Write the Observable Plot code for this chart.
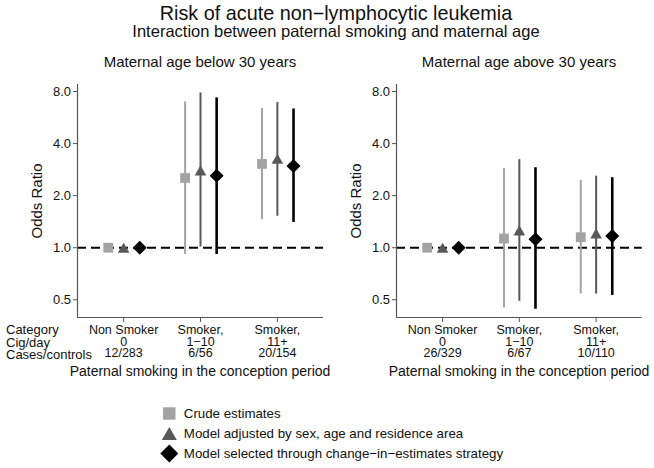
<!DOCTYPE html>
<html>
<head>
<meta charset="utf-8">
<script src="https://cdn.jsdelivr.net/npm/d3@7"></script>
<script src="https://cdn.jsdelivr.net/npm/@observablehq/plot@0.6"></script>
<style>
  body { margin: 0; background: #fff; }
  #chart { position: relative; width: 654px; height: 468px; overflow: hidden; background: #fff;
           font-family: "Liberation Sans", Arial, Helvetica, sans-serif; color: #111; }
  .abs { position: absolute; white-space: nowrap; }
  .ctr { text-align: center; }
</style>
</head>
<body>
<div id="chart">
  <div class="abs ctr" style="left:0;width:672px;top:3.9px;font-size:19.8px;line-height:1">Risk of acute non−lymphocytic leukemia</div>
  <div class="abs ctr" style="left:0;width:672px;top:23.3px;font-size:16.5px;line-height:1">Interaction between paternal smoking and maternal age</div>
  <div class="abs ctr" id="pt0" style="left:0;width:400px;top:54px;font-size:15px;line-height:1"></div>
  <div class="abs ctr" id="pt1" style="left:319px;width:400px;top:54px;font-size:15px;line-height:1"></div>
  <div id="p0" class="abs" style="left:0;top:0"></div>
  <div id="p1" class="abs" style="left:327px;top:0"></div>
  <div class="abs" id="rows" style="left:6px;top:324.3px;font-size:13px;line-height:12.5px"></div>
  <div class="abs ctr" id="xl0" style="left:0;width:400px;top:364px;font-size:14px;line-height:1"></div>
  <div class="abs ctr" id="xl1" style="left:319px;width:400px;top:364px;font-size:14px;line-height:1"></div>
  <div id="legend" class="abs" style="left:150px;top:395px"></div>
</div>
<script>
// ---------------- data ----------------
const panelTitles = ["Maternal age below 30 years", "Maternal age above 30 years"];
const categories = ["Non Smoker", "Smoker,", "Smoker,"];
const cigDay = ["0", "1−10", "11+"];
const casesBelow30 = ["12/283", "6/56", "20/154"];
const casesAbove30 = ["26/329", "6/67", "10/110"];
const rowLabels = ["Category", "Cig/day", "Cases/controls"];
const xTitle = "Paternal smoking in the conception period";
const yTitle = "Odds Ratio";
const yTicks = [0.5, 1, 2, 4, 8];
const seriesNames = ["Crude estimates", "Model adjusted by sex, age and residence area", "Model selected through change−in−estimates strategy"];

// below 30: odds ratio, lower and upper CI
const crudeBelow = [1, 2.53, 3.05];
const crudeBelowLo = [null, 0.914, 1.45];
const crudeBelowHi = [null, 6.96, 6.38];
const adjBelow = [1, 2.80, 3.27];
const adjBelowLo = [null, 1.01, 1.52];
const adjBelowHi = [null, 7.85, 6.90];
const selBelow = [1, 2.61, 2.97];
const selBelowLo = [null, 0.914, 1.40];
const selBelowHi = [null, 7.35, 6.34];
// above 30
const crudeAbove = [1, 1.13, 1.15];
const crudeAboveLo = [null, 0.449, 0.54];
const crudeAboveHi = [null, 2.87, 2.45];
const adjAbove = [1, 1.26, 1.21];
const adjAboveLo = [null, 0.49, 0.54];
const adjAboveHi = [null, 3.23, 2.59];
const selAbove = [1, 1.12, 1.17];
const selAboveLo = [null, 0.441, 0.53];
const selAboveHi = [null, 2.90, 2.54];

// ---------------- styling ----------------
const FONT = '"Liberation Sans", Arial, Helvetica, sans-serif';
const R = (size) => Math.sqrt(size / Math.PI);
const symSquare = { draw(c, size) { const h = R(size); c.rect(-h, -h, 2 * h, 2 * h); } };
const symTriangle = { draw(c, size) { const h = R(size), t = h * Math.sqrt(3) / 2;
  c.moveTo(0, -t); c.lineTo(h, t); c.lineTo(-h, t); c.closePath(); } };
const symDiamond = { draw(c, size) { const h = R(size);
  c.moveTo(0, -h); c.lineTo(h, 0); c.lineTo(0, h); c.lineTo(-h, 0); c.closePath(); } };
const styles = [
  { color: "#a3a3a3", sym: symSquare, r: 4.9, lr: 6.2, sw: 2, dx: -0.2 },
  { color: "#585858", sym: symTriangle, r: 5.8, lr: 7.5, sw: 2, dx: 0 },
  { color: "#000000", sym: symDiamond, r: 7, lr: 9, sw: 2.6, dx: 0.21 }
];

function rowsFor(sets) {
  const out = [];
  sets.forEach(([or, lo, hi], s) => {
    or.forEach((v, i) => out.push({ s, x: i + styles[s].dx, or: v, lo: lo[i], hi: hi[i] }));
  });
  return out;
}

const panels = [
  { rows: rowsFor([[crudeBelow, crudeBelowLo, crudeBelowHi], [adjBelow, adjBelowLo, adjBelowHi], [selBelow, selBelowLo, selBelowHi]]),
    cases: casesBelow30, marginLeft: 77, marginRight: 4 },
  { rows: rowsFor([[crudeAbove, crudeAboveLo, crudeAboveHi], [adjAbove, adjAboveLo, adjAboveHi], [selAbove, selAboveLo, selAboveHi]]),
    cases: casesAbove30, marginLeft: 69, marginRight: 12.3 }
];

const yDomain = [0.395, 8.78];
const xDomain = [-0.6, 2.6];

panels.forEach((p, k) => {
  const marks = [
    Plot.ruleY([1], { stroke: "#000", strokeWidth: 2, strokeDasharray: "9,5" }),
    Plot.ruleX([xDomain[0]], { stroke: "#555", strokeWidth: 1.2 }),
    Plot.ruleY([yDomain[0]], { stroke: "#555", strokeWidth: 1.2 }),
    Plot.axisY({ ticks: yTicks, tickFormat: (d) => d.toFixed(1), tickSize: 4, tickPadding: 2.5,
                 fontSize: 13, label: null, stroke: "#555" }),
    Plot.axisX({ ticks: [0, 1, 2], tickFormat: (i) => [categories[i], cigDay[i], p.cases[i]].join("\n"),
                 tickSize: 5, tickPadding: 3, fontSize: 12.5, lineHeight: 0.94, label: null, stroke: "#555" }),
    Plot.text([yTitle], { frameAnchor: "left", dx: -40.7, rotate: -90, textAnchor: "middle", fontSize: 15, fill: "#111" })
  ];
  styles.forEach((st, s) => {
    const rs = p.rows.filter((d) => d.s === s);
    marks.push(Plot.ruleX(rs.filter((d) => d.lo != null), { x: "x", y1: "lo", y2: "hi", stroke: st.color, strokeWidth: st.sw }));
  });
  styles.forEach((st, s) => {
    const rs = p.rows.filter((d) => d.s === s);
    marks.push(Plot.dot(rs, { x: "x", y: "or", symbol: st.sym, r: st.r, fill: st.color, stroke: "none" }));
  });
  const svg = Plot.plot({
    width: 327, height: 390,
    marginLeft: p.marginLeft, marginRight: p.marginRight, marginTop: 84, marginBottom: 73,
    x: { type: "linear", domain: xDomain },
    y: { type: "log", base: 2, domain: yDomain },
    style: { fontFamily: FONT, color: "#111", background: "transparent", overflow: "visible" },
    marks
  });
  document.getElementById("p" + k).appendChild(svg);
  document.getElementById("pt" + k).textContent = panelTitles[k];
  document.getElementById("xl" + k).textContent = xTitle;
});

document.getElementById("rows").innerHTML = rowLabels.join("<br>");

// legend
const legendRows = seriesNames.map((name, s) => ({ name, s }));
const legendMarks = [];
styles.forEach((st, s) => {
  legendMarks.push(Plot.dot(legendRows.filter((d) => d.s === s),
    { y: "name", frameAnchor: "left", dx: 18.8, symbol: st.sym, r: st.lr, fill: st.color, stroke: "none" }));
});
legendMarks.push(Plot.text(legendRows, { y: "name", text: "name", frameAnchor: "left", dx: 33.3,
  textAnchor: "start", fontSize: 13.3, fill: "#111" }));
const legend = Plot.plot({
  width: 360, height: 73, margin: 0,
  y: { type: "point", domain: seriesNames, range: [17.5, 57.5], padding: 0, axis: null },
  style: { fontFamily: FONT, color: "#111", background: "transparent", overflow: "visible" },
  marks: legendMarks
});
document.getElementById("legend").appendChild(legend);
</script>
</body>
</html>
